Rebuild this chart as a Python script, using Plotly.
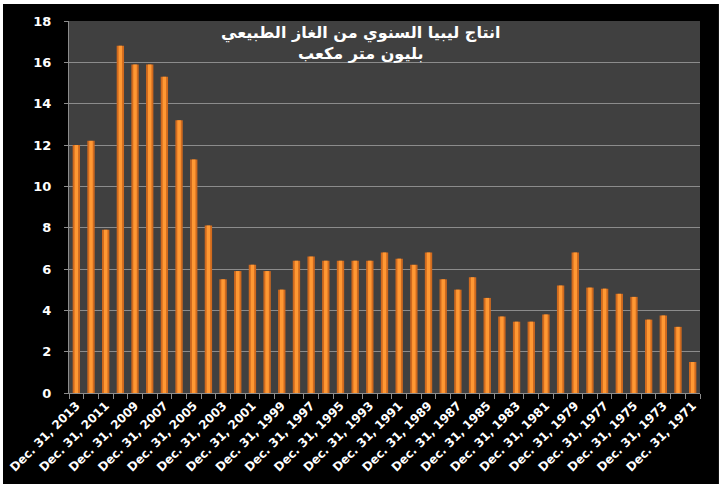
import plotly.graph_objects as go

# Libya yearly natural gas production, billion cubic metres
years = list(range(2013, 1970, -1))
production = [
    12.0, 12.2, 7.9, 16.8, 15.9, 15.9, 15.3, 13.2, 11.3, 8.1,
    5.5, 5.9, 6.2, 5.9, 5.0, 6.4, 6.6, 6.4, 6.4, 6.4,
    6.4, 6.8, 6.5, 6.2, 6.8, 5.5, 5.0, 5.6, 4.6, 3.7,
    3.45, 3.45, 3.8, 5.2, 6.8, 5.1, 5.05, 4.8, 4.65, 3.55,
    3.75, 3.2, 1.5,
]
categories = ["Dec. 31, %d" % y for y in years]
tick_text = [c if i % 2 == 0 else "" for i, c in enumerate(categories)]
y_ticks = list(range(0, 19, 2))

title = "انتاج ليبيا السنوي من الغاز الطبيعي<br>بليون متر مكعب"

fig = go.Figure()
# dark outer bar + lighter narrow core to fake the glossy gradient
fig.add_trace(go.Bar(x=categories, y=production, width=0.5,
                     marker=dict(color="#d06a1e", line=dict(width=0)),
                     hoverinfo="x+y"))
fig.add_trace(go.Bar(x=categories, y=production, width=0.24,
                     marker=dict(color="#ff9833", line=dict(width=0)),
                     hoverinfo="skip"))

fig.update_layout(
    width=722, height=489,
    margin=dict(l=69, r=22, t=21, b=96),
    paper_bgcolor="white",
    plot_bgcolor="#404040",
    barmode="overlay",
    showlegend=False,
    font=dict(family="DejaVu Sans", color="white"),
    shapes=[
        dict(type="rect", xref="paper", yref="paper", layer="below",
             x0=-0.1046, x1=1.030, y0=-0.2446, y1=1.0457,
             fillcolor="black", line=dict(width=0)),
        dict(type="rect", xref="paper", yref="paper", layer="below",
             x0=0, x1=1, y0=0, y1=1,
             fillcolor="#404040", line=dict(width=0)),
    ],
    annotations=[
        dict(text="<b>" + title + "</b>", xref="paper", yref="paper",
             x=0.462, y=0.941, xanchor="center", yanchor="middle",
             showarrow=False, align="center",
             font=dict(family="DejaVu Sans", size=16, color="white")),
    ],
)

fig.update_xaxes(
    type="category",
    tickmode="array", tickvals=categories, ticktext=tick_text,
    tickson="boundaries", ticks="outside", ticklen=5, tickcolor="#8c8c8c",
    tickangle=-45, tickfont=dict(size=12, color="white", weight="bold"),
    showline=True, linecolor="#8c8c8c", linewidth=1,
    showgrid=False, range=[-0.5, len(categories) - 0.5],
    automargin=False,
)
fig.update_yaxes(
    range=[0, 18], tickvals=y_ticks,
    ticks="outside", ticklen=4, tickcolor="#8c8c8c",
    ticklabelstandoff=10,
    tickfont=dict(size=13, color="white", weight="bold"),
    showgrid=True, gridcolor="#8c8c8c", gridwidth=1,
    showline=True, linecolor="#8c8c8c", linewidth=1,
    zeroline=False, automargin=False,
)

# drop the default body margin so the figure sits at the window corner
fig.write_html("out.html", config={"displayModeBar": False},
               post_script="document.body.style.margin = '0';")
